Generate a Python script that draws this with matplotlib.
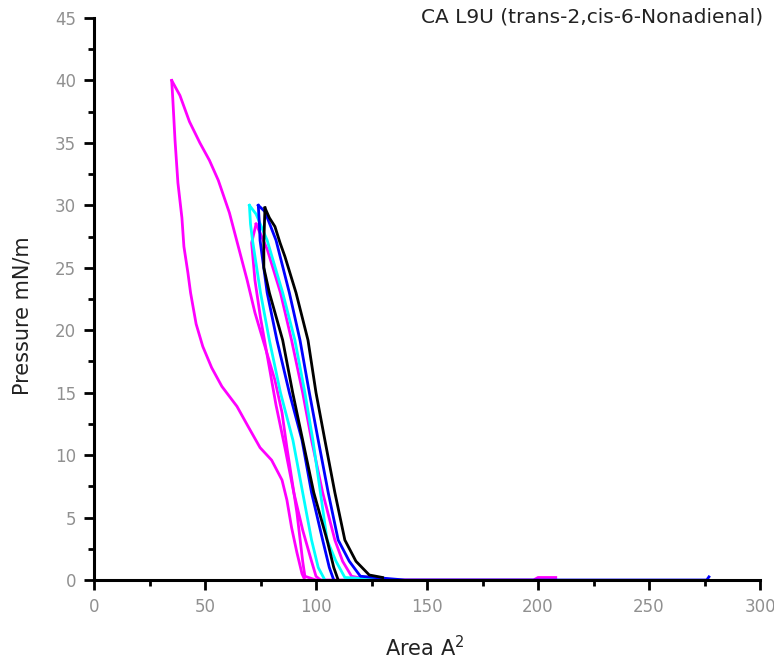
import numpy as np
import matplotlib
matplotlib.use("Agg")
import matplotlib.pyplot as plt
from matplotlib.ticker import MultipleLocator

# isotherm data (area in A^2, pressure in mN/m)
m1_comp_area = [208, 200, 198, 120, 100, 95, 94, 91.4, 89.6, 86.9, 84.7, 81.5, 77, 72.5, 69, 65, 61, 56, 52, 47.7, 43, 38.7, 35]
m1_comp_p = [0.2, 0.2, 0, 0, 0, 0.3, 1.5, 5.4, 7.5, 10.6, 13.4, 16, 18.7, 21.4, 24, 26.7, 29.4, 32, 33.6, 35, 36.7, 38.8, 40]
m1_exp_area = [35, 35.5, 36.5, 37.8, 39.6, 40.5, 42.3, 43.5, 46, 49, 53, 57.6, 64.4, 69.4, 74.8, 80, 84.7, 86.9, 89, 91.4, 93.7, 95]
m1_exp_p = [40, 38.5, 35.2, 31.8, 29, 26.7, 24.6, 23, 20.5, 18.7, 17, 15.5, 13.9, 12.3, 10.6, 9.6, 8, 6.4, 4.2, 2.2, 0.5, 0]

m2_comp_area = [125, 116, 112, 108.5, 103, 98, 94, 89, 84, 78, 73]
m2_comp_p = [0, 0.3, 1.5, 3.2, 7, 11.2, 15, 19.2, 23, 26.5, 28.5]
m2_exp_area = [73, 71, 72.5, 75, 78, 82, 86, 90, 94, 98, 100, 102]
m2_exp_p = [28.5, 27, 24, 21, 18, 14, 10.6, 7, 4, 1.5, 0.3, 0]

c_comp_area = [135, 113, 109, 105, 102, 98.6, 95, 90.5, 85, 78, 73, 70]
c_comp_p = [0, 0.2, 1.5, 3.2, 7, 11.2, 15, 19.2, 23, 27.2, 29.3, 30]
c_exp_area = [70, 70.5, 71.4, 75, 79, 84, 89.6, 94, 98, 101, 104]
c_exp_p = [30, 28.5, 27.2, 23, 19.2, 15, 11.2, 7, 3.2, 1, 0]

b_comp_area = [277, 276, 140, 120, 115, 110, 105.5, 101, 97, 92.8, 88, 82, 77, 74]
b_comp_p = [0.25, 0, 0, 0.3, 1.5, 3.2, 7, 11.2, 15, 19.2, 23, 27.2, 29.5, 30]
b_exp_area = [74, 74.5, 74.8, 78, 82.4, 88, 93.7, 98, 103, 106, 108]
b_exp_p = [30, 28.5, 27.2, 23, 19.2, 15, 11.2, 7, 3.2, 1, 0]

k_comp_area = [130, 124, 118, 113, 108.5, 104, 100, 96.4, 91, 86, 83.8, 81.5, 79, 77]
k_comp_p = [0.2, 0.4, 1.5, 3.2, 7, 11.2, 15, 19.2, 23, 25.9, 27, 28.3, 29, 29.8]
k_exp_area = [77, 76.5, 76.5, 79, 85, 89.5, 94, 99, 105, 108, 110]
k_exp_p = [29.8, 27, 25, 23, 19.2, 15, 11.2, 7, 3.2, 1, 0]

curves = [
    (m1_comp_area, m1_comp_p, "#ff00ff"),
    (m1_exp_area, m1_exp_p, "#ff00ff"),
    (m2_comp_area, m2_comp_p, "#ff00ff"),
    (m2_exp_area, m2_exp_p, "#ff00ff"),
    (c_comp_area, c_comp_p, "#00ffff"),
    (c_exp_area, c_exp_p, "#00ffff"),
    (b_comp_area, b_comp_p, "#0000ff"),
    (b_exp_area, b_exp_p, "#0000ff"),
    (k_comp_area, k_comp_p, "black"),
    (k_exp_area, k_exp_p, "black"),
]

fig = plt.figure(figsize=(7.74, 6.68), dpi=100)
ax = fig.add_axes([94/774, 1-580/668, 666/774, 562/668])

for a, p, col in curves:
    ax.plot(a, p, color=col, lw=2, clip_on=False)

ax.set_xlim(0, 300)
ax.set_ylim(0, 45)
ax.xaxis.set_major_locator(MultipleLocator(50))
ax.xaxis.set_minor_locator(MultipleLocator(25))
ax.yaxis.set_major_locator(MultipleLocator(5))
ax.yaxis.set_minor_locator(MultipleLocator(2.5))
ax.spines['top'].set_visible(False)
ax.spines['right'].set_visible(False)
for s in ['left', 'bottom']:
    ax.spines[s].set_linewidth(2.2)
ax.tick_params(which='major', direction='out', length=7, width=2, labelsize=12, labelcolor='#909090', pad=6)
ax.tick_params(which='minor', direction='out', length=4, width=2)

ax.set_xlabel('Area A$^2$', fontsize=15, color='#222222')
ax.set_ylabel('Pressure mN/m', fontsize=15, color='#222222')
ax.xaxis.set_label_coords(0.497, -0.098)
ax.yaxis.set_label_coords(-0.092, 0.47)
fig.text(763/774, 1-17/668, 'CA L9U (trans-2,cis-6-Nonadienal)', ha='right', va='center',
         fontsize=14.5, color='#222222')

plt.savefig("out.png", dpi=100)
